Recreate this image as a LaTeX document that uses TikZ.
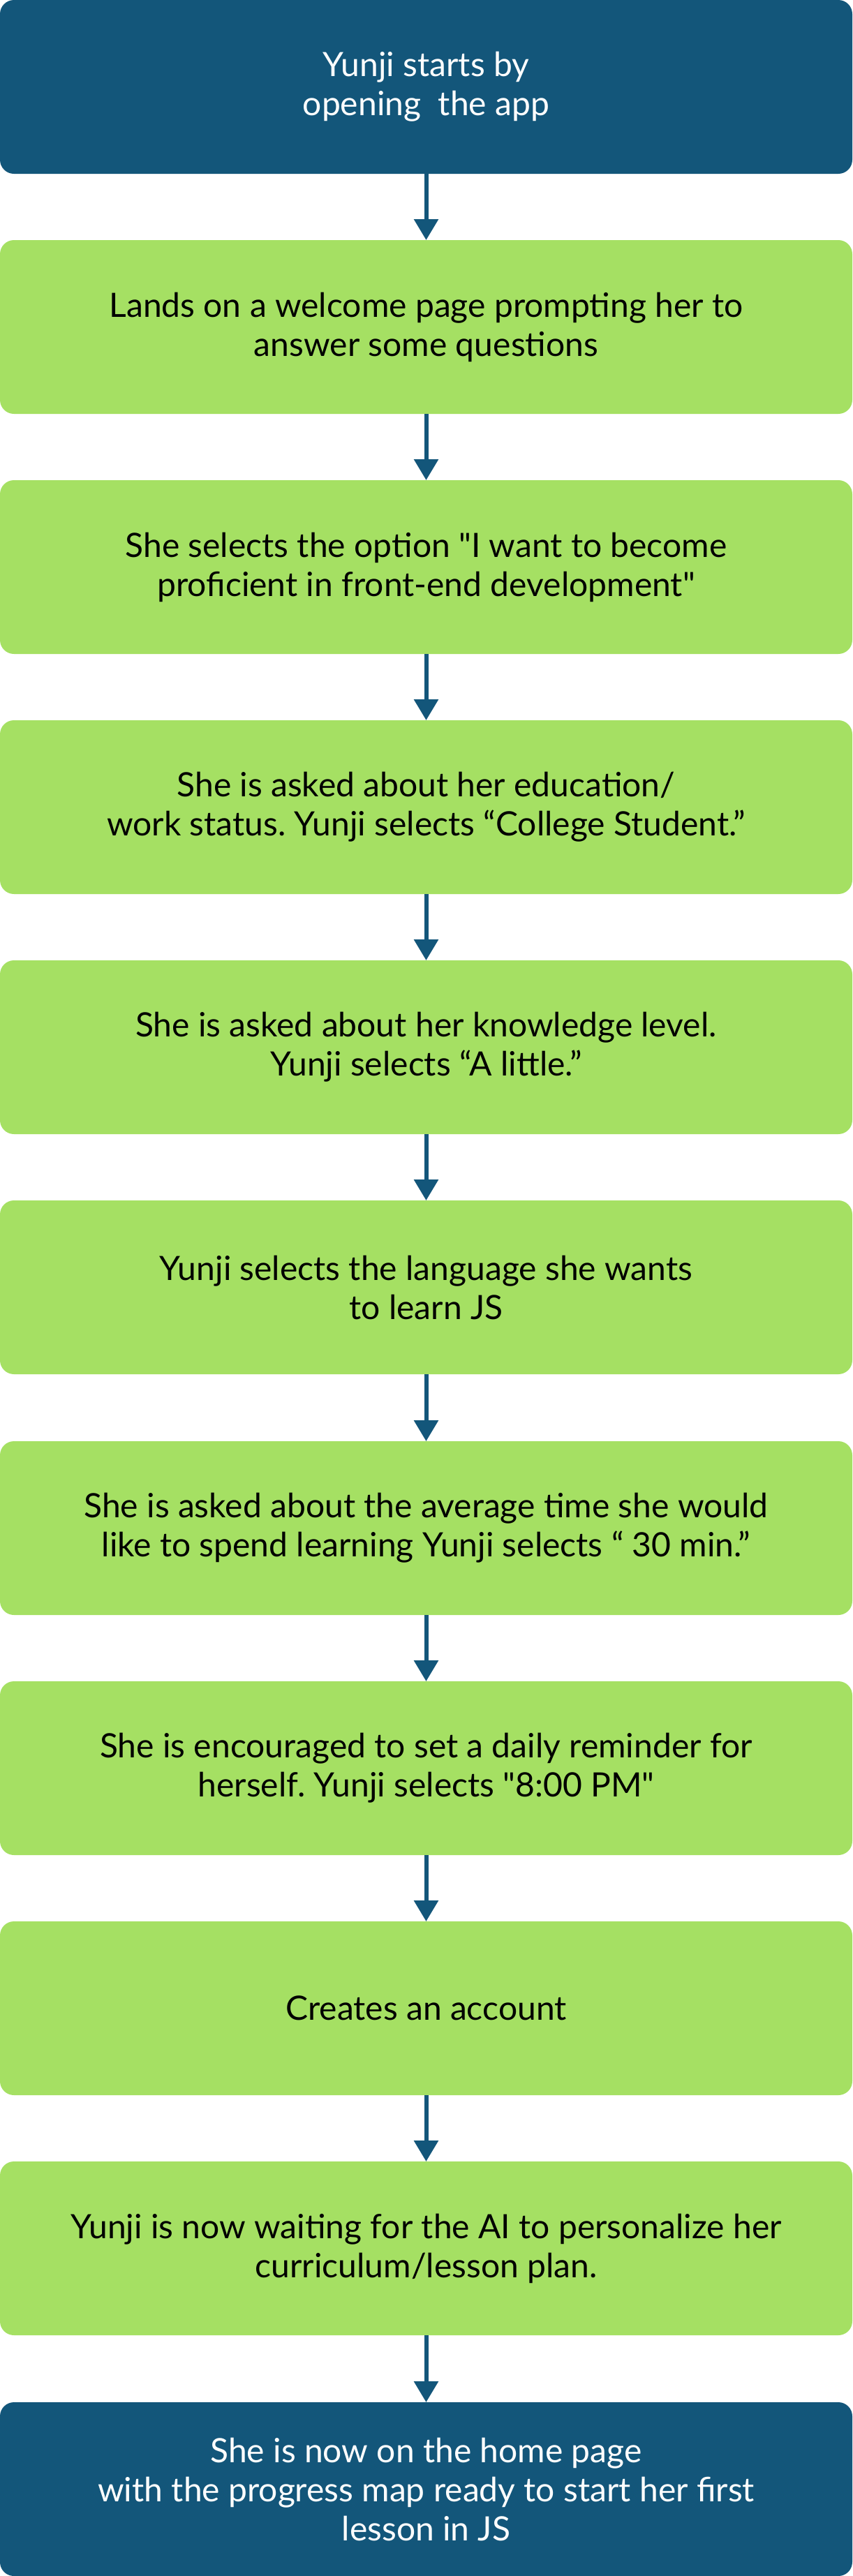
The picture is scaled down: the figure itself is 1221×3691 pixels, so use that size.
\documentclass[tikz,border=0pt]{standalone}
\usepackage{fontspec}
\setmainfont{Lato}
\newfontfamily\plainlato{Lato}
\usetikzlibrary{arrows.meta}
\definecolor{navy}{RGB}{19,86,122}
\definecolor{leaf}{RGB}{165,224,99}
\newcommand{\dq}{{\plainlato\symbol{34}}}
\tikzset{
  stepbox/.style={rectangle, rounded corners=20pt, minimum width=1221pt, minimum height=249pt,
    inner sep=0pt, outer sep=0pt, align=center, font=\fontsize{48}{56}\selectfont\frenchspacing},
  greenbox/.style={stepbox, fill=leaf, text=black},
  navybox/.style={stepbox, fill=navy, text=white},
  arr/.style={draw=navy, line width=6pt, -{Triangle[width=34pt,length=30pt]}}
}
\begin{document}
\begin{tikzpicture}[x=1pt,y=1pt]
\useasboundingbox (0,0) rectangle (1221,-3691);
\node[navybox]  (b1)  at (610.5,-124.5)  {Yunji starts by\\opening\ \ the app};
\node[greenbox] (b2)  at (610.5,-468.5)  {Lands on a welcome page prompting her to\\answer some questions};
\node[greenbox] (b3)  at (610.5,-812.5)  {She selects the option \dq I want to become\\proficient in front-end development\dq};
\node[greenbox] (b4)  at (610.5,-1156.5) {She is asked about her education/\\work status. Yunji selects “College Student.”};
\node[greenbox] (b5)  at (610.5,-1500.5) {She is asked about her knowledge level.\\Yunji selects “A little.”};
\node[greenbox] (b6)  at (610.5,-1844.5) {Yunji selects the language she wants\\to learn JS};
\node[greenbox] (b7)  at (610.5,-2189.5) {She is asked about the average time she would\\like to spend learning Yunji selects “ 30 min.”};
\node[greenbox] (b8)  at (610.5,-2533.5) {She is encouraged to set a daily reminder for\\herself. Yunji selects \dq 8:00 PM\dq};
\node[greenbox] (b9)  at (610.5,-2877.5) {Creates an account};
\node[greenbox] (b10) at (610.5,-3221.5) {Yunji is now waiting for the AI to personalize her\\curriculum/lesson plan.};
\node[navybox]  (b11) at (610.5,-3566.5) {She is now on the home page\\with the progress map ready to start her first\\lesson in JS};
\foreach \a/\b in {b1/b2,b2/b3,b3/b4,b4/b5,b5/b6,b6/b7,b7/b8,b8/b9,b9/b10,b10/b11}
  \draw[arr] (\a.south) -- (\b.north);
\end{tikzpicture}
\end{document}
